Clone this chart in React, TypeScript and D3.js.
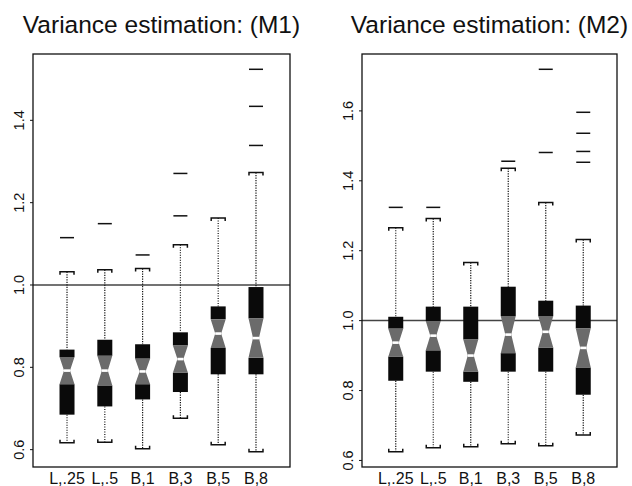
import React from "react";
import * as d3 from "d3";

const categories = ["L,.25", "L,.5", "B,1", "B,3", "B,5", "B,8"];

// Panel M1
const m1Low = [0.617, 0.618, 0.602, 0.676, 0.612, 0.595];
const m1Q1 = [0.685, 0.705, 0.722, 0.74, 0.783, 0.783];
const m1Median = [0.792, 0.792, 0.79, 0.82, 0.882, 0.871];
const m1Q3 = [0.843, 0.867, 0.856, 0.885, 0.948, 0.995];
const m1High = [1.032, 1.037, 1.04, 1.098, 1.163, 1.273];
const m1Notch = [0.033, 0.036, 0.031, 0.033, 0.035, 0.048];
const m1Outliers = [[1.115], [1.149], [1.073], [1.168, 1.271], [], [1.339, 1.434, 1.524]];
const m1Ticks = [0.6, 0.8, 1.0, 1.2, 1.4];

// Panel M2
const m2Low = [0.625, 0.636, 0.639, 0.648, 0.642, 0.673];
const m2Q1 = [0.828, 0.854, 0.825, 0.854, 0.854, 0.788];
const m2Median = [0.937, 0.957, 0.9, 0.96, 0.968, 0.922];
const m2Q3 = [1.011, 1.04, 1.04, 1.097, 1.057, 1.043];
const m2High = [1.266, 1.292, 1.166, 1.436, 1.338, 1.232];
const m2Notch = [0.04, 0.042, 0.046, 0.053, 0.045, 0.056];
const m2Outliers = [[1.324], [1.324], [], [1.456], [1.481, 1.719], [1.453, 1.484, 1.536, 1.596]];
const m2Ticks = [0.6, 0.8, 1.0, 1.2, 1.4, 1.6];

const titles = ["Variance estimation: (M1)", "Variance estimation: (M2)"];
const refValue = 1.0;

const FONT = "'Liberation Sans', Arial, Helvetica, sans-serif";

type PanelProps = {
  title: string;
  low: number[];
  q1: number[];
  med: number[];
  q3: number[];
  high: number[];
  notch: number[];
  outliers: number[][];
  ticks: number[];
  x0: number;
  x1: number;
};

function Panel(p: PanelProps) {
  const top = 54;
  const bottom = 467;
  const allVals = [...p.low, ...p.high, ...p.outliers.flat()];
  const mn = d3.min(allVals)!;
  const mx = d3.max(allVals)!;
  const span = mx - mn;
  const y = d3.scaleLinear().domain([mn - 0.04 * span, mx + 0.04 * span]).range([bottom, top]);
  const x = d3.scaleLinear().domain([0.1, categories.length + 0.9]).range([p.x0, p.x1]);
  const bw = 15;
  const ind = 4.5;
  const capW = 14;
  const capLeg = 3;
  const cx = (p.x0 + p.x1) / 2;

  return (
    <g>
      <text x={cx} y={33} textAnchor="middle" fontFamily={FONT} fontSize={24.5} fill="#111">
        {p.title}
      </text>
      <line x1={p.x0} x2={p.x1} y1={y(refValue)} y2={y(refValue)} stroke="#444" strokeWidth={1.5} />
      {categories.map((c, i) => {
        const xc = x(i + 1);
        const l = xc - bw / 2;
        const r = xc + bw / 2;
        const nt = y(p.med[i] + p.notch[i]);
        const nb = y(p.med[i] - p.notch[i]);
        const ym = y(p.med[i]);
        const yq3 = y(p.q3[i]);
        const yq1 = y(p.q1[i]);
        const hg = `M${l},${nt} L${l + ind},${ym} L${l},${nb} L${r},${nb} L${r - ind},${ym} L${r},${nt} Z`;
        return (
          <g key={c}>
            <line x1={xc} x2={xc} y1={y(p.high[i])} y2={yq3} stroke="#111" strokeWidth={1.2} strokeDasharray="1.2 1.3" />
            <line x1={xc} x2={xc} y1={yq1} y2={y(p.low[i])} stroke="#111" strokeWidth={1.2} strokeDasharray="1.2 1.3" />
            <path
              d={`M${xc - capW / 2},${y(p.high[i]) + capLeg} V${y(p.high[i])} H${xc + capW / 2} V${y(p.high[i]) + capLeg}`}
              fill="none"
              stroke="#111"
              strokeWidth={1.5}
            />
            <path
              d={`M${xc - capW / 2},${y(p.low[i]) - capLeg} V${y(p.low[i])} H${xc + capW / 2} V${y(p.low[i]) - capLeg}`}
              fill="none"
              stroke="#111"
              strokeWidth={1.5}
            />
            <rect x={l} y={yq3} width={bw} height={nt - yq3} fill="#0a0a0a" />
            <rect x={l} y={nb} width={bw} height={yq1 - nb} fill="#0a0a0a" />
            <path d={hg} fill="#6b6b6b" />
            <rect x={l + ind} y={ym - 1.3} width={bw - 2 * ind} height={2.6} fill="#fff" />
            {p.outliers[i].map((o, k) => (
              <line key={k} x1={xc - 7} x2={xc + 7} y1={y(o)} y2={y(o)} stroke="#111" strokeWidth={1.5} />
            ))}
            <text x={xc} y={484} textAnchor="middle" fontFamily={FONT} fontSize={16} fill="#111">
              {c}
            </text>
          </g>
        );
      })}
      <rect x={p.x0} y={top} width={p.x1 - p.x0} height={bottom - top} fill="none" stroke="#111" strokeWidth={1.3} />
      {p.ticks.map((t) => (
        <g key={t}>
          <line x1={p.x0 - 3} x2={p.x0} y1={y(t)} y2={y(t)} stroke="#111" strokeWidth={1} />
          <text
            transform={`translate(${p.x0 - 9.5},${y(t)}) rotate(-90)`}
            textAnchor="middle"
            fontFamily={FONT}
            fontSize={14.5}
            fill="#111"
          >
            {d3.format(".1f")(t)}
          </text>
        </g>
      ))}
    </g>
  );
}

export default function App() {
  return (
    <svg width={632} height={486} style={{ position: "absolute", left: 0, top: 0, background: "#fff" }}>
      <rect x={0} y={0} width={632} height={486} fill="#fff" />
      <Panel
        title={titles[0]}
        low={m1Low}
        q1={m1Q1}
        med={m1Median}
        q3={m1Q3}
        high={m1High}
        notch={m1Notch}
        outliers={m1Outliers}
        ticks={m1Ticks}
        x0={33}
        x1={290}
      />
      <Panel
        title={titles[1]}
        low={m2Low}
        q1={m2Q1}
        med={m2Median}
        q3={m2Q3}
        high={m2High}
        notch={m2Notch}
        outliers={m2Outliers}
        ticks={m2Ticks}
        x0={362}
        x1={617}
      />
    </svg>
  );
}
